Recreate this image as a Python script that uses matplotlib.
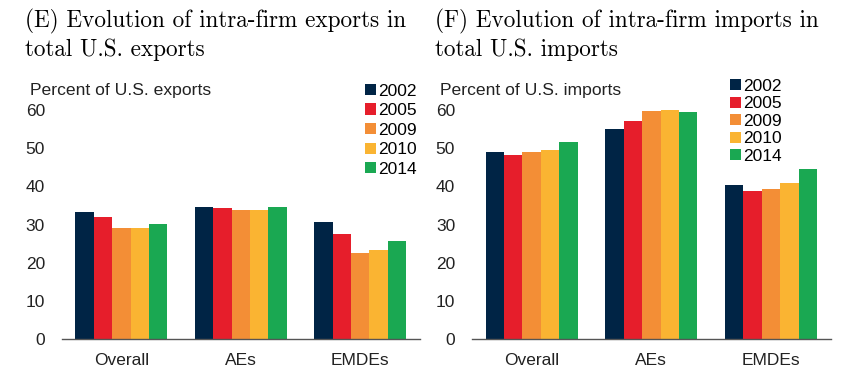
import numpy as np
import matplotlib
matplotlib.use("Agg")
import matplotlib.pyplot as plt
from matplotlib.patches import Patch

# data
categories = ["Overall", "AEs", "EMDEs"]
years = ["2002", "2005", "2009", "2010", "2014"]
colors = ["#002445", "#e61e2b", "#f38e36", "#fab432", "#1aa852"]

exports_2002 = [33.2, 34.6, 30.6]
exports_2005 = [31.9, 34.4, 27.6]
exports_2009 = [29.0, 33.8, 22.5]
exports_2010 = [29.2, 33.9, 23.4]
exports_2014 = [30.2, 34.5, 25.6]

imports_2002 = [49.0, 54.9, 40.4]
imports_2005 = [48.3, 57.0, 38.7]
imports_2009 = [48.9, 59.8, 39.4]
imports_2010 = [49.5, 60.0, 40.8]
imports_2014 = [51.6, 59.6, 44.6]

exports = [exports_2002, exports_2005, exports_2009, exports_2010, exports_2014]
imports = [imports_2002, imports_2005, imports_2009, imports_2010, imports_2014]

plt.rcParams['font.family'] = ['Liberation Sans', 'DejaVu Sans']

fig = plt.figure(figsize=(8.41, 3.9), dpi=100)
ax1 = fig.add_axes([0.0734, 0.130, 0.4257, 0.588])
ax2 = fig.add_axes([0.561, 0.130, 0.4269, 0.588])

bw = 0.154
x = np.arange(len(categories))


def draw(ax, series, ylabel, ylab_x, leg_x, leg_space):
    for i, vals in enumerate(series):
        ax.bar(x + (i - 2) * bw, vals, width=bw, color=colors[i], linewidth=0)
    ax.set_xlim(-0.5, 2.5)
    ax.set_ylim(0, 60)
    ax.set_yticks(range(0, 61, 10))
    ax.set_xticks(x)
    ax.set_xticklabels(categories)
    for s in ["top", "right", "left"]:
        ax.spines[s].set_visible(False)
    ax.spines["bottom"].set_color("#555555")
    ax.spines["bottom"].set_linewidth(1.0)
    ax.tick_params(axis="y", length=0, pad=12, labelsize=12.5, colors="#222222")
    ax.tick_params(axis="x", length=0, pad=10, labelsize=12.5, colors="#222222")
    fig.text(ylab_x / 841, 1 - 90 / 390, ylabel, fontsize=12.6, va="center", ha="left", color="#222222")
    handles = [Patch(facecolor=c, edgecolor="none") for c in colors]
    ax.legend(handles, years, loc="upper left", bbox_to_anchor=leg_x, frameon=False,
              borderaxespad=0, borderpad=0, handlelength=0.6, handleheight=0.6,
              handletextpad=0.15, labelspacing=leg_space, fontsize=12.5)


draw(ax1, exports, "Percent of U.S. exports", 30, (0.848, 1.115), 0.26)
draw(ax2, imports, "Percent of U.S. imports", 440, (0.72, 1.135), 0.14)

fig.text(25 / 841, 1 - 9 / 390, "(E) Evolution of intra-firm exports in\ntotal U.S. exports",
         family="cmr10", fontsize=16.7, va="top", ha="left", linespacing=1.28)
fig.text(435 / 841, 1 - 9 / 390, "(F) Evolution of intra-firm imports in\ntotal U.S. imports",
         family="cmr10", fontsize=16.7, va="top", ha="left", linespacing=1.28)

fig.savefig("out.png", dpi=100)
